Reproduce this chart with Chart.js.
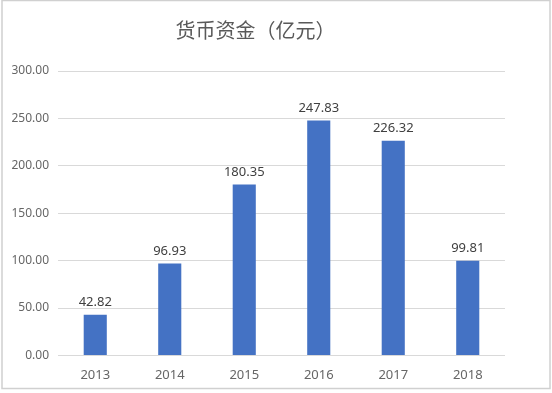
<!DOCTYPE html>
<html>
<head>
<meta charset="utf-8">
<script src="https://cdn.jsdelivr.net/npm/chart.js@4/dist/chart.umd.min.js"></script>
<style>
  html, body { margin: 0; padding: 0; background: #fff; }
  #wrap { width: 552px; height: 393px; }
</style>
</head>
<body>
<div id="wrap"><canvas id="cashChart" width="552" height="393"></canvas></div>
<script>
// chart data
const years = ['2013', '2014', '2015', '2016', '2017', '2018'];
const cashValues = [42.82, 96.93, 180.35, 247.83, 226.32, 99.81];
const yTicks = [0, 50, 100, 150, 200, 250, 300];

const textGray = '#666666';

// white background + thin frame
const framePlugin = {
    id: 'frame',
    beforeDraw(chart) {
        const c = chart.ctx;
        c.save();
        c.fillStyle = '#fff';
        c.fillRect(0, 0, chart.width, chart.height);
        c.strokeStyle = '#d0d0d0';
        c.lineWidth = 1.5;
        c.strokeRect(2, 0.5, chart.width - 4, chart.height - 5);
        c.restore();
    }
};

// value labels above each bar
const valueLabels = {
    id: 'valueLabels',
    afterDatasetsDraw(chart) {
        const c = chart.ctx;
        const meta = chart.getDatasetMeta(0);
        c.save();
        c.font = '13px "Noto Sans", sans-serif';
        c.fillStyle = '#404040';
        c.textAlign = 'center';
        c.textBaseline = 'bottom';
        meta.data.forEach((bar, i) => {
            c.fillText(cashValues[i].toFixed(2), bar.x, bar.y - 6);
        });
        c.restore();
    }
};

const ctx = document.getElementById('cashChart').getContext('2d');
const cashChart = new Chart(ctx, {
    type: 'bar',
    data: {
        labels: years,
        datasets: [{
            label: '货币资金',
            data: cashValues,
            backgroundColor: '#4472C4',
            barPercentage: 0.31,
            categoryPercentage: 1
        }]
    },
    options: {
        responsive: false,
        animation: false,
        layout: { padding: { left: 6, right: 47, top: 0, bottom: 6 } },
        plugins: {
            legend: { display: false },
            tooltip: { enabled: false },
            title: {
                display: true,
                text: '货币资金（亿元）',
                color: '#595959',
                font: { family: '"Noto Sans CJK SC", sans-serif', size: 20, weight: 'normal' },
                padding: { top: 18, bottom: 29 }
            }
        },
        scales: {
            x: {
                grid: { display: false },
                border: { display: false },
                ticks: {
                    color: textGray,
                    font: { family: '"Noto Sans", sans-serif', size: 13 },
                    padding: 4
                }
            },
            y: {
                min: 0,
                max: 300,
                afterBuildTicks(scale) {
                    scale.ticks = yTicks.map(v => ({ value: v }));
                },
                afterFit(scale) {
                    scale.width = 52;
                },
                grid: { color: '#d9d9d9', drawTicks: false },
                border: { display: false },
                ticks: {
                    color: textGray,
                    font: { family: '"Noto Sans", sans-serif', size: 12 },
                    padding: 9,
                    callback: v => v.toFixed(2)
                }
            }
        }
    },
    plugins: [framePlugin, valueLabels]
});
</script>
</body>
</html>
